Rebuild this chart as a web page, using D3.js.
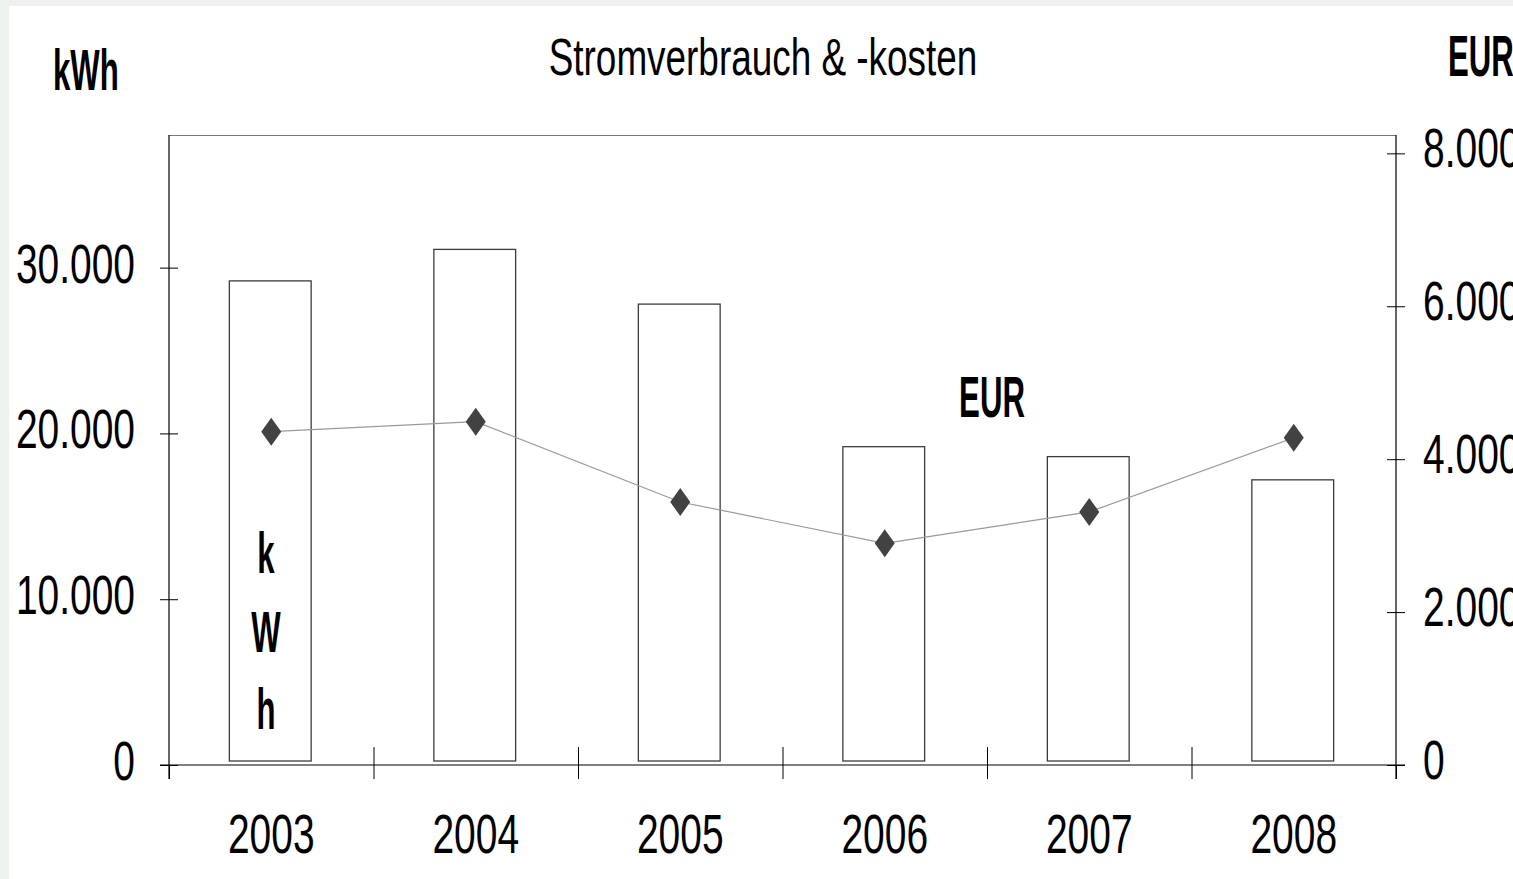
<!DOCTYPE html>
<html>
<head>
<meta charset="utf-8">
<script src="https://cdn.jsdelivr.net/npm/d3@7/dist/d3.min.js"></script>
<style>
  body { margin: 0; background: #eef2ee; }
  svg { display: block; }
  text { font-family: "Liberation Sans Narrow", "Arial Narrow", "Liberation Sans", sans-serif; fill: #000; }
</style>
</head>
<body>
<div id="chart"></div>
<script>
// data
var years = ["2003", "2004", "2005", "2006", "2007", "2008"];
var kwhValues = [29200, 31100, 27800, 19200, 18600, 17200];
var eurValues = [4360, 4490, 3440, 2900, 3310, 4280];
var kwhTicks = [0, 10000, 20000, 30000];
var eurTicks = [0, 2000, 4000, 6000, 8000];
var kwhMax = 38000,
    eurMax = 8240;

var width = 1513,
    height = 879;

var plotLeft = 169, plotRight = 1396, plotTop = 135, plotBottom = 765;

// the source font is narrow and tall: squeeze x, stretch y
var sx = 0.82, syReg = 1.15, syBold = 1.5;

var de = d3.formatLocale({decimal: ",", thousands: ".", grouping: [3], currency: ["", " €"]});
var fmt = de.format(",");

var svg = d3.select("#chart").append("svg")
    .attr("width", width)
    .attr("height", height);

// page frame: light band on top and left, white card
svg.append("rect").attr("width", width).attr("height", height).attr("fill", "#eef2ee");
svg.append("rect").attr("x", 9).attr("y", 6).attr("width", width - 9).attr("height", height - 6).attr("fill", "#fff");

var x = d3.scaleBand().domain(years).range([plotLeft, plotRight]).padding(0);
var edge = d3.scaleLinear().domain([0, years.length]).range([plotLeft, plotRight]);
var yL = d3.scaleLinear().domain([0, kwhMax]).range([plotBottom, plotTop]);
var yR = d3.scaleLinear().domain([0, eurMax]).range([plotBottom, plotTop]);

function placeText(sel, dx, dy) {
  sel.attr("x", null).attr("y", null).attr("dy", "0.358em")
     .attr("transform", "translate(" + dx + "," + dy + ") scale(" + sx + "," + syReg + ")");
}

// plot frame top line
svg.append("line")
    .attr("x1", plotLeft).attr("x2", plotRight)
    .attr("y1", plotTop + 0.5).attr("y2", plotTop + 0.5)
    .attr("stroke", "#777").attr("stroke-width", 1.2);

// bars
var bw = x.bandwidth() * 0.4;
svg.selectAll(".bar")
  .data(years)
  .enter()
  .append("rect")
    .attr("class", "bar")
    .attr("x", function(d) { return x(d) + (x.bandwidth() - bw) / 2 - 1; })
    .attr("y", function(d, i) { return yL(kwhValues[i]); })
    .attr("width", bw)
    .attr("height", function(d, i) { return yL(0) - 4 - yL(kwhValues[i]); })
    .attr("fill", "#fff")
    .attr("stroke", "#3c3c3c")
    .attr("stroke-width", 1.3);

// line + diamonds
var line = d3.line()
    .x(function(d, i) { return x(years[i]) + x.bandwidth() / 2; })
    .y(function(d) { return yR(d); });

svg.append("path")
    .datum(eurValues)
    .attr("d", line)
    .attr("fill", "none")
    .attr("stroke", "#999")
    .attr("stroke-width", 1.2);

svg.selectAll(".marker")
  .data(eurValues)
  .enter()
  .append("path")
    .attr("class", "marker")
    .attr("d", "M0,-14L10,0L0,14L-10,0Z")
    .attr("transform", function(d, i) {
      return "translate(" + (x(years[i]) + x.bandwidth() / 2) + "," + yR(d) + ")";
    })
    .attr("fill", "#424242");

// left axis
var gL = svg.append("g")
    .attr("transform", "translate(" + plotLeft + ",0)")
    .call(d3.axisLeft(yL).tickValues(kwhTicks).tickFormat(fmt).tickSize(9));
gL.select(".domain").remove();
gL.selectAll(".tick line").attr("x1", -9).attr("x2", 9).attr("stroke", "#000");
gL.selectAll(".tick text").attr("text-anchor", "end").style("font-size", "47.5px");
placeText(gL.selectAll(".tick text"), -34, -5);
svg.append("line")
    .attr("x1", plotLeft).attr("x2", plotLeft)
    .attr("y1", plotTop).attr("y2", plotBottom + 14)
    .attr("stroke", "#000").attr("stroke-width", 1.2);

// right axis
var gR = svg.append("g")
    .attr("transform", "translate(" + plotRight + ",0)")
    .call(d3.axisRight(yR).tickValues(eurTicks).tickFormat(fmt).tickSize(9));
gR.select(".domain").remove();
gR.selectAll(".tick line").attr("x1", -9).attr("x2", 9).attr("stroke", "#000");
gR.selectAll(".tick text").attr("text-anchor", "start").style("font-size", "47.5px");
placeText(gR.selectAll(".tick text"), 27, -6);
svg.append("line")
    .attr("x1", plotRight).attr("x2", plotRight)
    .attr("y1", plotTop).attr("y2", plotBottom + 14)
    .attr("stroke", "#000").attr("stroke-width", 1.2);

// bottom axis: ticks on the category edges, labels in the middle
var gE = svg.append("g")
    .attr("transform", "translate(0," + plotBottom + ")")
    .call(d3.axisBottom(edge).tickValues(d3.range(years.length + 1)).tickFormat("").tickSize(14));
gE.select(".domain").remove();
gE.selectAll(".tick line")
    .attr("y1", function(d) { return (d === 0 || d === years.length) ? 0 : -18; })
    .attr("y2", 14)
    .attr("stroke", "#000");
svg.append("line")
    .attr("x1", plotLeft - 9).attr("x2", plotRight + 9)
    .attr("y1", plotBottom).attr("y2", plotBottom)
    .attr("stroke", "#000").attr("stroke-width", 1.2);

var gX = svg.append("g")
    .attr("transform", "translate(0," + plotBottom + ")")
    .call(d3.axisBottom(x).tickSize(0));
gX.select(".domain").remove();
gX.selectAll(".tick text").attr("text-anchor", "middle").style("font-size", "47.5px");
placeText(gX.selectAll(".tick text"), 0, 68);

// title and unit labels
svg.append("text")
    .attr("text-anchor", "middle")
    .attr("transform", "translate(763,75) scale(" + sx + "," + syReg + ")")
    .style("font-size", "45px")
    .text("Stromverbrauch & -kosten");

function boldLabel(txt, px, py, anchor) {
  svg.append("text")
      .attr("text-anchor", anchor)
      .attr("transform", "translate(" + px + "," + py + ") scale(" + sx + "," + syBold + ")")
      .style("font-size", "38px")
      .style("font-weight", "bold")
      .text(txt);
}
boldLabel("kWh", 53, 90, "start");
boldLabel("EUR", 1448, 76, "start");
boldLabel("EUR", 992, 417, "middle");
["k", "W", "h"].forEach(function(c, i) {
  boldLabel(c, 266, [573, 652, 729][i], "middle");
});
</script>
</body>
</html>
